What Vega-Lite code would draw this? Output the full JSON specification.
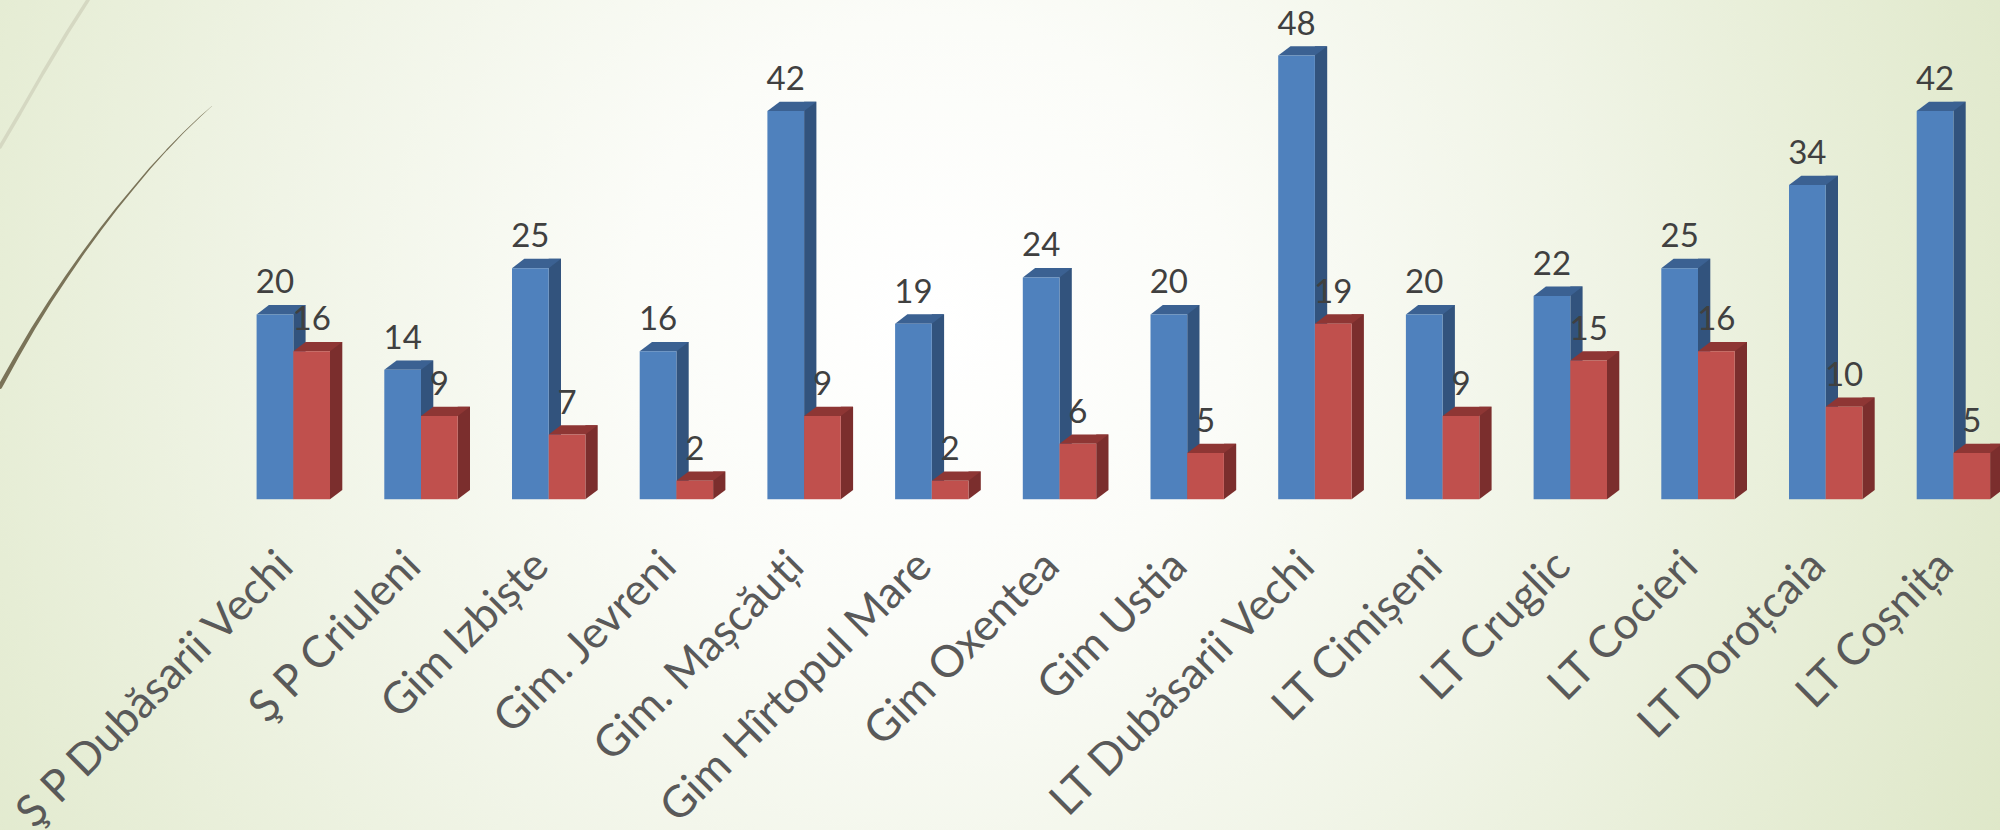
{"$schema":"https://vega.github.io/schema/vega-lite/v6.json","width":2000,"height":830,"autosize":{"type":"none"},"padding":0,"background":"#e0e8ca","config":{"view":{"stroke":null}},"datasets":{"bars":[{"name":"Ş P Dubăsarii Vechi","series":"A","value":20},{"name":"Ş P Dubăsarii Vechi","series":"B","value":16},{"name":"Ş P Criuleni","series":"A","value":14},{"name":"Ş P Criuleni","series":"B","value":9},{"name":"Gim Izbiște","series":"A","value":25},{"name":"Gim Izbiște","series":"B","value":7},{"name":"Gim. Jevreni","series":"A","value":16},{"name":"Gim. Jevreni","series":"B","value":2},{"name":"Gim. Mașcăuți","series":"A","value":42},{"name":"Gim. Mașcăuți","series":"B","value":9},{"name":"Gim Hîrtopul Mare","series":"A","value":19},{"name":"Gim Hîrtopul Mare","series":"B","value":2},{"name":"Gim Oxentea","series":"A","value":24},{"name":"Gim Oxentea","series":"B","value":6},{"name":"Gim Ustia","series":"A","value":20},{"name":"Gim Ustia","series":"B","value":5},{"name":"LT Dubăsarii Vechi","series":"A","value":48},{"name":"LT Dubăsarii Vechi","series":"B","value":19},{"name":"LT Cimișeni","series":"A","value":20},{"name":"LT Cimișeni","series":"B","value":9},{"name":"LT Cruglic","series":"A","value":22},{"name":"LT Cruglic","series":"B","value":15},{"name":"LT Cocieri","series":"A","value":25},{"name":"LT Cocieri","series":"B","value":16},{"name":"LT Doroțcaia","series":"A","value":34},{"name":"LT Doroțcaia","series":"B","value":10},{"name":"LT Coșnița","series":"A","value":42},{"name":"LT Coșnița","series":"B","value":5}],"glow":[{"px":930,"py":320}],"wisp":[{"px":0,"py":386.7,"w":4.5},{"px":16.7,"py":356.7,"w":4.1},{"px":33.3,"py":328.3,"w":3.7},{"px":50,"py":301.7,"w":3.3},{"px":66.7,"py":276.7,"w":3},{"px":83.3,"py":252.7,"w":2.6},{"px":100,"py":230,"w":2.3},{"px":116.7,"py":208.3,"w":2},{"px":133.3,"py":188.3,"w":1.7},{"px":150,"py":168.3,"w":1.4},{"px":166.7,"py":150,"w":1.1},{"px":183.3,"py":132.7,"w":0.9},{"px":200,"py":116.7,"w":0.6},{"px":212,"py":106,"w":0.3}],"wisp2":[{"px":0,"py":147,"w":3.5},{"px":20,"py":113,"w":3.5},{"px":43,"py":73,"w":3.5},{"px":67,"py":33,"w":3.5},{"px":88,"py":0,"w":3.5}]},"layer":[{"data":{"name":"glow"},"mark":{"type":"point","shape":"square","filled":true,"opacity":1,"size":5760000,"strokeWidth":0,"color":{"gradient":"radial","x1":0.5,"y1":0.5,"r1":0,"x2":0.5,"y2":0.5,"r2":0.5,"stops":[{"offset":0,"color":"#ffffff"},{"offset":0.25,"color":"#fbfcf8"},{"offset":0.55,"color":"#f0f4e6"},{"offset":0.8,"color":"#e6edd5"},{"offset":1,"color":"#dee7c8"}]}},"encoding":{"x":{"field":"px","type":"quantitative","axis":null,"scale":{"domain":[0,2000],"range":[0,2000]}},"y":{"field":"py","type":"quantitative","axis":null,"scale":{"domain":[0,830],"range":[0,830]}}}},{"data":{"name":"wisp"},"mark":{"type":"trail","color":"#7a7358"},"encoding":{"x":{"field":"px","type":"quantitative","axis":null,"scale":{"domain":[0,2000],"range":[0,2000]}},"y":{"field":"py","type":"quantitative","axis":null,"scale":{"domain":[0,830],"range":[0,830]}},"size":{"field":"w","type":"quantitative","legend":null,"scale":null},"order":{"field":"px"}}},{"data":{"name":"wisp2"},"mark":{"type":"trail","color":"#d5d8c2"},"encoding":{"x":{"field":"px","type":"quantitative","axis":null,"scale":{"domain":[0,2000],"range":[0,2000]}},"y":{"field":"py","type":"quantitative","axis":null,"scale":{"domain":[0,830],"range":[0,830]}},"size":{"field":"w","type":"quantitative","legend":null,"scale":null},"order":{"field":"px"}}},{"data":{"name":"bars"},"encoding":{"x":{"field":"name","type":"nominal","sort":null,"title":null,"scale":{"type":"band","paddingInner":0,"paddingOuter":0,"range":[229.45,2017.25]},"axis":{"zindex":1,"offset":-331,"domain":false,"ticks":false,"grid":false,"labelAngle":-45,"labelAlign":"right","labelBaseline":"middle","labelFontSize":44,"labelFont":"Lato","labelColor":"#595959","labelPadding":60,"labelOverlap":false,"labelBound":false,"labelFlush":false,"labelOffset":-7,"labelLimit":0}},"y":{"field":"value","type":"quantitative","axis":null,"stack":null,"scale":{"domain":[0,48],"range":[499.3,55.5]}}},"layer":[{"transform":[{"filter":"datum.series==='A'"}],"mark":{"type":"bar","color":"#32537d","width":12.3,"xOffset":6.15,"yOffset":-9.3,"y2Offset":-9.3},"encoding":{"y2":{"datum":0}}},{"transform":[{"filter":"datum.series==='A'"}],"mark":{"type":"point","filled":true,"opacity":1,"size":4,"color":"#32537d","shape":"M0,0L12.3,-9.3L0,-9.3Z"},"encoding":{"y":{"datum":0}}},{"transform":[{"filter":"datum.series==='A'"}],"mark":{"type":"point","filled":true,"opacity":1,"size":4,"color":"#3b6192","shape":"M-36.7,0L0,0L12.3,-9.3L-24.4,-9.3Z"}},{"transform":[{"filter":"datum.series==='A'"}],"mark":{"type":"bar","color":"#4f81bd","width":36.7,"xOffset":-18.35},"encoding":{"y2":{"datum":0}}},{"transform":[{"filter":"datum.series==='B'"}],"mark":{"type":"bar","color":"#7b2e2d","width":12.3,"xOffset":42.85,"yOffset":-9.3,"y2Offset":-9.3},"encoding":{"y2":{"datum":0}}},{"transform":[{"filter":"datum.series==='B'"}],"mark":{"type":"point","filled":true,"opacity":1,"size":4,"color":"#7b2e2d","shape":"M36.7,0L49,-9.3L36.7,-9.3Z"},"encoding":{"y":{"datum":0}}},{"transform":[{"filter":"datum.series==='B'"}],"mark":{"type":"point","filled":true,"opacity":1,"size":4,"color":"#8e3634","shape":"M0,0L36.7,0L49,-9.3L12.3,-9.3Z"}},{"transform":[{"filter":"datum.series==='B'"}],"mark":{"type":"bar","color":"#c0504d","width":36.7,"xOffset":18.35},"encoding":{"y2":{"datum":0}}},{"transform":[{"filter":"datum.series==='A'"}],"mark":{"type":"text","font":"Lato","fontSize":33,"color":"#404040","baseline":"alphabetic","align":"center","xOffset":-18.35,"yOffset":-21},"encoding":{"text":{"field":"value","type":"quantitative"}}},{"transform":[{"filter":"datum.series==='B'"}],"mark":{"type":"text","font":"Lato","fontSize":33,"color":"#404040","baseline":"alphabetic","align":"center","xOffset":18.35,"yOffset":-21},"encoding":{"text":{"field":"value","type":"quantitative"}}}]}],"resolve":{"scale":{"x":"independent","y":"independent"}}}
